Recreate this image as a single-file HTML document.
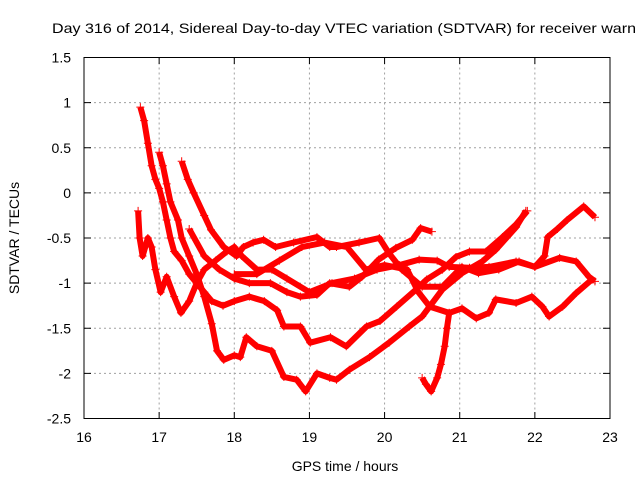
<!DOCTYPE html>
<html><head><meta charset="utf-8"><style>body{margin:0;background:#fff}svg{display:block}text{font-family:"Liberation Sans",sans-serif;font-size:14px;fill:#000}</style></head>
<body>
<svg id="chart" width="640" height="480" xmlns="http://www.w3.org/2000/svg">
<rect width="640" height="480" fill="#fff"/>
<text x="52" y="33" textLength="584" lengthAdjust="spacingAndGlyphs">Day 316 of 2014, Sidereal Day-to-day VTEC variation (SDTVAR) for receiver warn</text>
<text x="345" y="471" text-anchor="middle">GPS time / hours</text>
<text transform="translate(19,238) rotate(-90)" text-anchor="middle">SDTVAR / TECUs</text>
<g id="grid"></g><g id="ticks"></g><g id="series"></g>
<rect x="84" y="57.5" width="526" height="361" fill="none" stroke="#000" stroke-width="1"/>
</svg>
<script>
const xTicks=[16,17,18,19,20,21,22,23];
const yTicks=[1.5,1,0.5,0,-0.5,-1,-1.5,-2,-2.5];
const yTickLabels=["1.5","1","0.5","0","-0.5","-1","-1.5","-2","-2.5"];
const seriesA=[[17.0,0.45],[17.05,0.3],[17.1,0.1],[17.15,-0.1],[17.25,-0.3],[17.3,-0.5],[17.4,-0.7],[17.5,-0.9],[17.6,-1.15],[17.7,-1.45],[17.77,-1.75],[17.86,-1.85],[18.0,-1.8],[18.08,-1.82],[18.16,-1.6],[18.3,-1.7],[18.5,-1.75],[18.66,-2.04],[18.83,-2.07],[18.95,-2.2],[19.1,-2.0],[19.27,-2.05],[19.36,-2.07],[19.53,-1.96],[19.8,-1.82],[20.06,-1.66],[20.33,-1.48],[20.5,-1.37],[20.77,-1.07],[21.03,-0.89],[21.3,-0.76],[21.48,-0.63],[21.75,-0.38],[21.88,-0.2]];
const seriesB=[[16.75,0.95],[16.8,0.8],[16.85,0.55],[16.9,0.3],[16.95,0.15],[17.0,0.05],[17.05,-0.1],[17.1,-0.3],[17.15,-0.5],[17.2,-0.65],[17.3,-0.75],[17.4,-0.9],[17.5,-1.0],[17.6,-1.1],[17.7,-1.2],[17.85,-1.25],[18.0,-1.2],[18.2,-1.15],[18.4,-1.2],[18.57,-1.3],[18.66,-1.48],[18.88,-1.48],[19.01,-1.66],[19.28,-1.6],[19.49,-1.7],[19.76,-1.48],[19.94,-1.42],[20.16,-1.26],[20.42,-1.07],[20.56,-0.96],[20.77,-0.85],[20.95,-0.71],[21.13,-0.65],[21.35,-0.65],[21.57,-0.49],[21.75,-0.35],[21.9,-0.2]];
const seriesC=[[17.3,0.35],[17.38,0.15],[17.46,0.0],[17.6,-0.25],[17.69,-0.41],[17.86,-0.6],[18.03,-0.7],[18.12,-0.6],[18.25,-0.55],[18.39,-0.52],[18.55,-0.6],[18.79,-0.55],[19.1,-0.49],[19.27,-0.6],[19.36,-0.6],[19.66,-0.55],[19.93,-0.5],[20.06,-0.67],[20.23,-0.85],[20.5,-1.04],[20.77,-1.04],[21.03,-0.82],[21.25,-0.89],[21.52,-0.85],[21.79,-0.76],[22.0,-0.82],[22.13,-0.7],[22.17,-0.49],[22.3,-0.4],[22.43,-0.3],[22.65,-0.15],[22.8,-0.27]];
const seriesD=[[17.4,-0.4],[17.6,-0.7],[17.8,-0.85],[18.0,-0.95],[18.2,-1.0],[18.48,-1.0],[18.7,-1.1],[18.88,-1.15],[19.1,-1.13],[19.27,-1.0],[19.53,-1.04],[19.7,-0.93],[19.92,-0.74],[20.15,-0.61],[20.37,-0.52],[20.48,-0.39],[20.63,-0.43]];
const seriesE=[[18.0,-0.9],[18.3,-0.9],[18.6,-0.75],[18.9,-0.6],[19.2,-0.55],[19.5,-0.6],[19.75,-0.85],[20.0,-0.8],[20.3,-0.85],[20.45,-1.1],[20.6,-1.26],[20.86,-1.33],[21.03,-1.28],[21.22,-1.39],[21.39,-1.33],[21.48,-1.18],[21.75,-1.22],[21.96,-1.15],[22.1,-1.26],[22.19,-1.37],[22.37,-1.26],[22.55,-1.11],[22.76,-0.96]];
const seriesF=[[16.72,-0.2],[16.74,-0.5],[16.78,-0.7],[16.85,-0.5],[16.9,-0.6],[16.95,-0.85],[17.02,-1.1],[17.1,-0.93],[17.2,-1.15],[17.29,-1.33],[17.4,-1.2],[17.5,-1.0],[17.6,-0.85],[17.75,-0.75],[17.9,-0.65],[18.0,-0.6],[18.1,-0.7],[18.3,-0.85],[18.5,-0.85],[18.7,-0.95],[19.0,-1.1],[19.3,-1.0],[19.6,-0.95],[19.9,-0.85],[20.2,-0.8],[20.46,-0.74],[20.7,-0.75],[20.86,-0.82],[21.13,-0.83],[21.39,-0.82],[21.75,-0.76],[22.0,-0.82],[22.33,-0.72],[22.55,-0.76],[22.72,-0.93],[22.8,-0.98]];
const seriesG=[[20.5,-2.05],[20.55,-2.12],[20.62,-2.2],[20.7,-2.05],[20.75,-1.9],[20.8,-1.7],[20.83,-1.5],[20.86,-1.33]];
const allSeries=[seriesA,seriesB,seriesC,seriesD,seriesE,seriesF,seriesG];
const NS="http://www.w3.org/2000/svg";
function X(h){return 84+(h-16)*526/7;}
function Y(v){return 57.5+(1.5-v)*361/4;}
const grid=document.getElementById('grid'),ticks=document.getElementById('ticks'),ser=document.getElementById('series');
function mk(t,a,p){const e=document.createElementNS(NS,t);for(const k in a)e.setAttribute(k,a[k]);p.appendChild(e);return e;}
xTicks.forEach((t,i)=>{const x=X(t);
 if(i>0&&i<xTicks.length-1){const g=mk('line',{x1:x,x2:x,y1:57.5,y2:418.5,stroke:'#a0a0a0','stroke-dasharray':'2,3'},grid);}
 mk('line',{x1:x,x2:x,y1:418.5,y2:412,stroke:'#000'},ticks);mk('line',{x1:x,x2:x,y1:57.5,y2:64,stroke:'#000'},ticks);
 const l=mk('text',{x:x,y:442,'text-anchor':'middle'},ticks);l.textContent=String(t);
 
 });
yTicks.forEach((t,i)=>{const y=Y(t);
 if(i>0&&i<yTicks.length-1){const g=mk('line',{x1:84,x2:610,y1:y,y2:y,stroke:'#a0a0a0','stroke-dasharray':'2,3'},grid);}
 mk('line',{x1:84,x2:91,y1:y,y2:y,stroke:'#000'},ticks);mk('line',{x1:603,x2:610,y1:y,y2:y,stroke:'#000'},ticks);
 const l=mk('text',{x:71,y:y+5,'text-anchor':'end'},ticks);l.textContent=yTickLabels[i];
 
 });
allSeries.forEach((s,si)=>{
 const g=mk('g',{},ser);
 
 
 mk('polyline',{points:s.map(p=>X(p[0])+','+Y(p[1])).join(' '),fill:'none',stroke:'#f00','stroke-width':6,'stroke-linejoin':'round'},g);
 s.forEach(p=>{const x=X(p[0]),y=Y(p[1]);
  const m=mk('path',{d:`M${x-4},${y}H${x+4}M${x},${y-4}V${y+4}`,stroke:'#f00','stroke-width':1},g);
  
  });
});
</script>
</body></html>
